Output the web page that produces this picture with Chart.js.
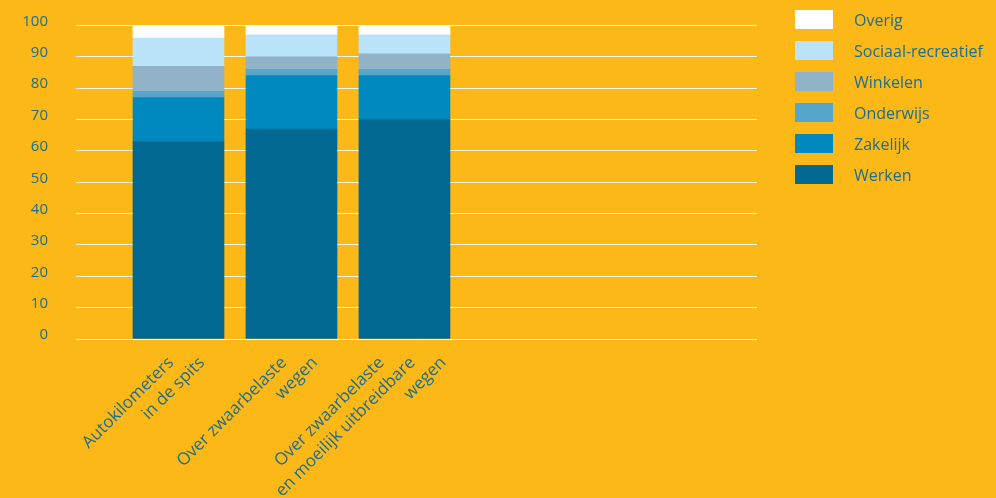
<!DOCTYPE html>
<html>
<head>
<meta charset="utf-8">
<script src="https://cdn.jsdelivr.net/npm/chart.js@4/dist/chart.umd.min.js"></script>
<style>
  html, body { margin: 0; padding: 0; background: #fcb816; }
  #wrap { position: relative; width: 996px; height: 498px; }
  #legend { position: absolute; left: 795px; top: 10px; font-family: "Open Sans", sans-serif; font-size: 16px; color: #1f6d8c; }
  .item { display: flex; align-items: center; height: 19px; margin-bottom: 12px; }
  .box { width: 38px; height: 19px; margin-right: 21px; }
</style>
</head>
<body>
<div id="wrap">
  <canvas id="chart" width="996" height="498"></canvas>
  <div id="legend"></div>
</div>
<script>
// categories (one array of lines per bar)
const categories = [
  ['Autokilometers', 'in de spits'],
  ['Over zwaarbelaste', 'wegen'],
  ['Over zwaarbelaste', 'en moeilijk uitbreidbare', 'wegen']
];

// series, bottom to top (percent)
const werken    = [63, 67, 70];
const zakelijk  = [14, 17, 14];
const onderwijs = [2, 2, 2];
const winkelen  = [8, 4, 5];
const sociaal   = [9, 7, 6];
const overig    = [4, 3, 3];

const seriesNames  = ['Werken', 'Zakelijk', 'Onderwijs', 'Winkelen', 'Sociaal-recreatief', 'Overig'];
const seriesColors = ['#006891', '#0089bf', '#55a6c9', '#91b3c7', '#b8e3f8', '#ffffff'];
const seriesValues = [werken, zakelijk, onderwijs, winkelen, sociaal, overig];

// y axis ticks
const yMin = 0, yMax = 100, yStep = 10;

const textColor = '#1f6d8c';
const fontFamily = '"Open Sans", sans-serif';

// bar positions on the x scale
const xPos = categories.map((c, i) => i + 1);

const datasets = seriesNames.map((name, k) => ({
  label: name,
  data: xPos.map((x, i) => ({ x: x, y: seriesValues[k][i] })),
  backgroundColor: seriesColors[k],
  borderWidth: 0,
  barThickness: 91
}));

// draws the rotated multi-line category labels under the bars
const xLabels = {
  id: 'xLabels',
  afterDraw(chart) {
    const ctx = chart.ctx;
    const xs = chart.scales.x;
    ctx.save();
    ctx.fillStyle = textColor;
    ctx.font = '17px ' + fontFamily;
    ctx.textAlign = 'right';
    ctx.textBaseline = 'middle';
    categories.forEach((lines, i) => {
      const cx = xs.getPixelForValue(xPos[i]);
      const n = lines.length;
      lines.forEach((line, j) => {
        ctx.save();
        ctx.translate(cx + 8 + (j - (n - 1) / 2) * 31, 360);
        ctx.rotate(-Math.PI / 4);
        ctx.fillText(line, 0, 0);
        ctx.restore();
      });
    });
    ctx.restore();
  }
};

new Chart(document.getElementById('chart'), {
  type: 'bar',
  data: { datasets: datasets },
  plugins: [xLabels],
  options: {
    responsive: false,
    animation: false,
    layout: { padding: { top: 25.5, right: 239, bottom: 159, left: 0 } },
    plugins: { legend: { display: false }, tooltip: { enabled: false } },
    scales: {
      x: {
        type: 'linear',
        stacked: true,
        offset: false,
        min: 0.093,
        max: 6.12,
        display: false
      },
      y: {
        stacked: true,
        min: yMin,
        max: yMax,
        afterFit: s => { s.width = 76; s.paddingTop = 0; s.paddingBottom = 0; },
        border: { display: false },
        grid: { color: 'rgba(255,255,255,0.9)', lineWidth: 1, drawTicks: false },
        ticks: {
          stepSize: yStep,
          padding: 28,
          labelOffset: -4,
          color: textColor,
          font: { family: fontFamily, size: 15 }
        }
      }
    }
  }
});

// legend, top to bottom
const legend = document.getElementById('legend');
for (let k = seriesNames.length - 1; k >= 0; k--) {
  const item = document.createElement('div');
  item.className = 'item';
  item.innerHTML = '<div class="box" style="background:' + seriesColors[k] + '"></div><span>' + seriesNames[k] + '</span>';
  legend.appendChild(item);
}
</script>
</body>
</html>
